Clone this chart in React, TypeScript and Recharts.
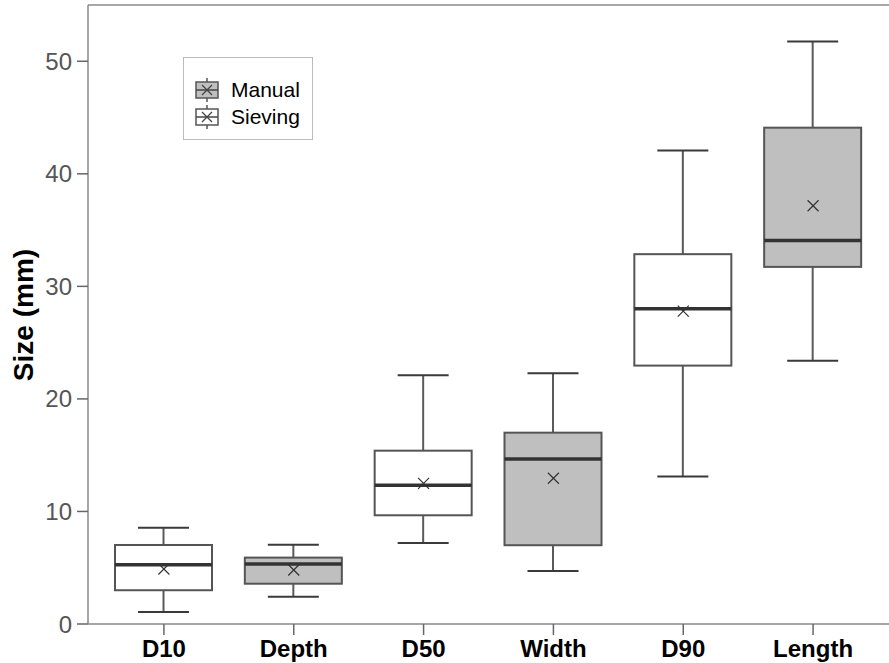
import React from 'react';
import {
  ComposedChart,
  Bar,
  Scatter,
  XAxis,
  YAxis,
  ReferenceLine,
} from 'recharts';

// Box-plot summaries per measured dimension (mm)
const categories = ['D10', 'Depth', 'D50', 'Width', 'D90', 'Length'];
const methods = ['Sieving', 'Manual', 'Sieving', 'Manual', 'Sieving', 'Manual'];
const whiskerLow = [1.07, 2.43, 7.2, 4.71, 13.1, 23.4];
const q1Values = [3.0, 3.58, 9.66, 7.0, 22.96, 31.73];
const medianValues = [5.27, 5.33, 12.33, 14.67, 28.0, 34.07];
const q3Values = [7.02, 5.9, 15.4, 17.0, 32.86, 44.1];
const whiskerHigh = [8.56, 7.05, 22.1, 22.28, 42.07, 51.76];
const meanValues = [4.89, 4.8, 12.5, 12.95, 27.8, 37.16];
const yTicks = [0, 10, 20, 30, 40, 50];
const legendItems = ['Manual', 'Sieving'];

const FILL: Record<string, string> = { Manual: '#bfbfbf', Sieving: '#ffffff' };
const FONT = '"Liberation Sans", Arial, Helvetica, sans-serif';

const data = categories.map((name, i) => ({
  name,
  method: methods[i],
  low: whiskerLow[i],
  q1: q1Values[i],
  median: medianValues[i],
  q3: q3Values[i],
  high: whiskerHigh[i],
  mean: meanValues[i],
}));

// Draws one box with whiskers; the bar spans [low, high] so its pixel
// extent gives the value-to-pixel mapping of the y scale.
const BoxShape = (props: any) => {
  const { x, y, width, height, payload } = props;
  if (!payload || height == null) return null;
  const k = height / (payload.high - payload.low);
  const py = (v: number) => y + (payload.high - v) * k;
  const cx = x + width / 2;
  const cap = 25.5;
  return (
    <g>
      <line x1={cx} x2={cx} y1={py(payload.high)} y2={py(payload.q3)} stroke="#5a5a5a" strokeWidth={2} />
      <line x1={cx} x2={cx} y1={py(payload.q1)} y2={py(payload.low)} stroke="#5a5a5a" strokeWidth={2} />
      <line x1={cx - cap} x2={cx + cap} y1={py(payload.high)} y2={py(payload.high)} stroke="#3a3a3a" strokeWidth={2} />
      <line x1={cx - cap} x2={cx + cap} y1={py(payload.low)} y2={py(payload.low)} stroke="#3a3a3a" strokeWidth={2} />
      <rect
        x={x}
        y={py(payload.q3)}
        width={width}
        height={py(payload.q1) - py(payload.q3)}
        fill={FILL[payload.method]}
        stroke="#555"
        strokeWidth={2}
      />
      <line x1={x} x2={x + width} y1={py(payload.median)} y2={py(payload.median)} stroke="#333" strokeWidth={3.5} />
    </g>
  );
};

const MeanMark = (props: any) => {
  const { cx, cy } = props;
  const s = 5.5;
  return (
    <g stroke="#333" strokeWidth={1.2}>
      <line x1={cx - s} y1={cy - s} x2={cx + s} y2={cy + s} />
      <line x1={cx - s} y1={cy + s} x2={cx + s} y2={cy - s} />
    </g>
  );
};

const LegendIcon = ({ fill }: { fill: string }) => (
  <svg width={24} height={26} style={{ display: 'block' }}>
    <line x1={12} x2={12} y1={1} y2={25} stroke="#555" strokeWidth={1.5} />
    <rect x={1} y={5} width={22} height={16} fill={fill} stroke="#555" strokeWidth={1.5} />
    <line x1={1} x2={23} y1={13} y2={13} stroke="#444" strokeWidth={1.5} />
    <line x1={7} y1={8} x2={17} y2={18} stroke="#444" strokeWidth={1.2} />
    <line x1={7} y1={18} x2={17} y2={8} stroke="#444" strokeWidth={1.2} />
  </svg>
);

export default function App() {
  return (
    <div style={{ position: 'absolute', left: 0, top: 0, width: 889, height: 663, background: '#fff' }}>
      <ComposedChart
        width={889}
        height={663}
        data={data}
        margin={{ top: 5, right: 0, bottom: 0, left: 0 }}
        barCategoryGap={0}
      >
        <XAxis
          dataKey="name"
          padding={{ left: 11, right: 11 }}
          height={39}
          tickSize={11}
          tickMargin={5}
          axisLine={{ stroke: '#888', strokeWidth: 1.5 }}
          tickLine={{ stroke: '#666', strokeWidth: 1.5 }}
          tick={{ fill: '#000', fontSize: 24, fontWeight: 700, fontFamily: FONT }}
          interval={0}
        />
        <YAxis
          domain={[0, 55]}
          ticks={yTicks}
          width={88}
          tickSize={11}
          tickMargin={5}
          axisLine={{ stroke: '#888', strokeWidth: 1.5 }}
          tickLine={{ stroke: '#666', strokeWidth: 1.5 }}
          tick={{ fill: '#555', fontSize: 24, fontFamily: FONT }}
          label={{
            content: () => (
              <text
                transform="translate(33,315) rotate(-90)"
                textAnchor="middle"
                fontSize={28}
                fontWeight={700}
                fontFamily={FONT}
                fill="#000"
              >
                Size (mm)
              </text>
            ),
          }}
        />
        <ReferenceLine y={55} stroke="#888" strokeWidth={1.5} />
        <Bar
          dataKey={(d: any) => [d.low, d.high]}
          barSize={97}
          shape={<BoxShape />}
          isAnimationActive={false}
        />
        <Scatter dataKey="mean" shape={<MeanMark />} isAnimationActive={false} />
      </ComposedChart>
      <div
        style={{
          position: 'absolute',
          left: 183,
          top: 57,
          width: 130,
          height: 83,
          border: '1px solid #bbb',
          boxSizing: 'border-box',
          background: '#fff',
          fontFamily: FONT,
          fontSize: 21,
          color: '#000',
          paddingTop: 18,
          paddingLeft: 11,
        }}
      >
        {legendItems.map((m) => (
          <div key={m} style={{ display: 'flex', alignItems: 'center', height: 27 }}>
            <LegendIcon fill={FILL[m]} />
            <span style={{ marginLeft: 12, lineHeight: '27px' }}>{m}</span>
          </div>
        ))}
      </div>
    </div>
  );
}
